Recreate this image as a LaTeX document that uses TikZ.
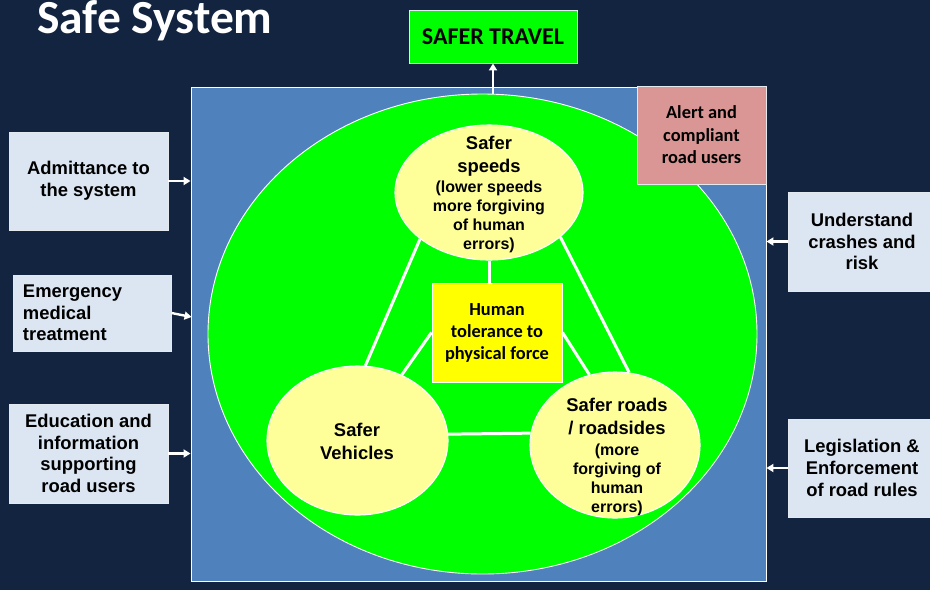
\documentclass[tikz,border=0pt]{standalone}
\usepackage{fontspec}
\usepackage{xcolor}
\usepackage{tikz}
\usetikzlibrary{shapes.geometric,arrows.meta,calc}
\newfontfamily\arl{Liberation Sans}
\newfontfamily\calib{Carlito}
\newcommand\smtxt{\fontsize{16}{19}\selectfont}
\definecolor{night}{HTML}{12243F}
\definecolor{sysblue}{HTML}{4F81BD}
\definecolor{lime}{HTML}{00FF00}
\definecolor{pale}{HTML}{DCE6F2}
\definecolor{rose}{HTML}{D99694}
\definecolor{cream}{HTML}{FFFF99}
\definecolor{yel}{HTML}{FFFF00}
\definecolor{rim}{HTML}{E4E9F0}
\tikzset{
  sidebox/.style={draw=rim, fill=pale, line width=0.9pt, inner sep=0pt, align=center,
    font=\arl\bfseries\fontsize{18.4}{21.7}\selectfont},
  disc/.style={ellipse, draw=white, fill=cream, line width=1.1pt, inner sep=0pt},
  lab/.style={align=center, inner sep=0pt, text=black},
  link/.style={draw=white, line width=3pt},
  feed/.style={draw=white, line width=2.4pt, -{Triangle[length=7pt,width=8pt]}},
}

\begin{document}
\begin{tikzpicture}[x=1pt,y=-1pt]
\fill[night] (0,0) rectangle (930,590);
\useasboundingbox (0,0) rectangle (930,590);
\node[anchor=base west, inner sep=0pt, text=white, font=\calib\bfseries\fontsize{47.5}{50}\selectfont] (ttl) at (37,33) {Safe System};
% the system
\node[draw=white, fill=sysblue, line width=0.9pt, minimum width=575pt, minimum height=494pt, inner sep=0pt] (sys) at (478.5,334) {};
\node[ellipse, draw=white, fill=lime, line width=0.9pt, minimum width=549pt, minimum height=480pt, inner sep=0pt] (zone) at (482.5,334) {};
\node[draw=rim, fill=rose, line width=0.9pt, minimum width=129pt, minimum height=98pt, inner sep=0pt, align=center,
  font=\calib\bfseries\fontsize{18.4}{22.5}\selectfont] (alert) at (701.5,135) {Alert and\\compliant\\road users};
% the three pillars
\node[disc, minimum width=188pt, minimum height=135pt] (speeds) at (489,192.5) {};
\node[disc, minimum width=181pt, minimum height=149pt] (veh) at (357.5,440.5) {};
\node[disc, minimum width=170pt, minimum height=146pt] (roads) at (615,445) {};
\node[draw=white, fill=yel, line width=1pt, minimum width=130pt, minimum height=99pt, inner sep=0pt, align=center,
  font=\calib\bfseries\fontsize{18.4}{22}\selectfont] (tol) at (497,332.5) {Human\\tolerance to\\physical force};
\draw[link] (speeds.214.6) -- (veh.84.2);
\draw[link] (speeds.328.1) -- (roads.79.1);
\draw[link] (veh.4.7) -- (roads.172);
\draw[link] (speeds.south) -- (speeds.south |- tol.north);
\draw[link] (tol.west) -- (veh.56.4);
\draw[link] (tol.east) -- (roads.110.3);
\node[lab, font=\arl\bfseries\fontsize{18.4}{19}\selectfont] (speedsTxt) at (489,194)
  {Safer\\[4pt]speeds\\[1pt]\smtxt(lower speeds\\\smtxt more forgiving\\\smtxt of human\\\smtxt errors)};
\node[lab, font=\arl\bfseries\fontsize{18.4}{23}\selectfont] (vehTxt) at (357,441) {Safer\\Vehicles};
\node[lab, font=\arl\bfseries\fontsize{18.4}{19}\selectfont] (roadsTxt) at (617,457)
  {Safer roads\\[4pt]/ roadsides\\[2pt]\smtxt(more\\\smtxt forgiving of\\\smtxt human\\\smtxt errors)};
% outcome
\node[draw=rim, fill=lime, line width=0.9pt, minimum width=168pt, minimum height=53pt, inner sep=0pt,
  font=\calib\bfseries\fontsize{24}{26}\selectfont] (travel) at (493,36.5) {SAFER TRAVEL};
\draw[feed] (travel.south |- zone.north) -- (travel.south);
% supporting factors
\node[sidebox, minimum width=159pt, minimum height=98pt] (adm) at (88.5,181) {Admittance to\\the system};
\node[sidebox, minimum width=158pt, minimum height=76pt, align=left, text width=138pt] (emerg) at (92,313) {Emergency\\medical\\treatment};
\node[sidebox, minimum width=159pt, minimum height=99pt] (edu) at (88.5,453.5) {Education and\\information\\supporting\\road users};
\node[sidebox, minimum width=148pt, minimum height=99pt] (und) at (862,241.5) {Understand\\crashes and\\risk};
\node[sidebox, minimum width=148pt, minimum height=98pt] (leg) at (862,468) {Legislation \&\\Enforcement\\of road rules};
\draw[feed] (adm.east) -- (adm.east -| sys.west);
\draw[feed] (emerg.east) -- ($(emerg.east -| sys.west)+(1,4)$);
\draw[feed] (edu.east) -- (edu.east -| sys.west);
\draw[feed] (und.west) -- (und.west -| sys.east);
\draw[feed] (leg.west) -- (leg.west -| sys.east);
\end{tikzpicture}
\end{document}
